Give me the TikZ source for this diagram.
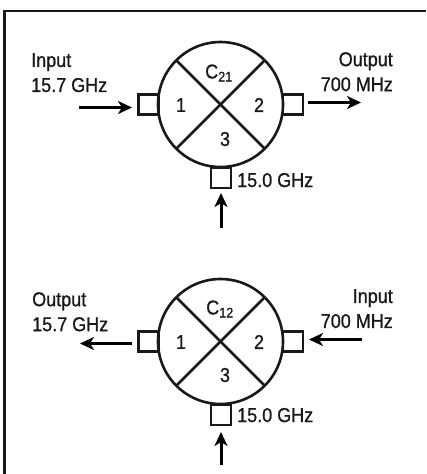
\documentclass[tikz,border=0pt]{standalone}
\usepackage{fontspec}
\setmainfont[FakeStretch=0.9,FakeBold=0.9]{Liberation Sans}
\usetikzlibrary{arrows.meta}
\tikzset{
  x=1pt,y=-1pt,
  lbl/.style={inner sep=0pt,font=\fontsize{20}{25}\selectfont,text=black!90,align=left},
  lblr/.style={lbl,align=right},
  num/.style={inner sep=0pt,font=\fontsize{20}{24}\selectfont,text=black!90},
  port/.style={draw=black!90,line width=2.6pt,fill=white,minimum size=20pt,inner sep=0pt,outer sep=0pt},
  ring/.style={draw=black!90,line width=2.6pt,circle,minimum size=125pt,inner sep=0pt,outer sep=0pt},
  wire/.style={draw=black!90,line width=2.6pt},
  sig/.style={draw=black,line width=3pt,-{Stealth[length=14pt,width=13pt,inset=4pt]}}
}
\begin{document}
\begin{tikzpicture}
\useasboundingbox (0,0) rectangle (426,474);
\fill[white] (0,0) rectangle (426,474);
\coordinate (fa) at (4.5,474);
\coordinate (fb) at (4.5,11);
\coordinate (fc) at (426,11);
\draw[line width=2.6pt,draw=black!90] (fa) -- (fb) -- (fc);
% top
\node[port] (l1) at (148.5,104.5) {};
\node[port] (r1) at (293,104.5) {};
\node[port] (b1) at (221,178) {};
\node[ring] (c1) at (220.5,104.5) {};
\draw[wire] (c1.135) -- (c1.-45);
\draw[wire] (c1.45) -- (c1.-135);
\node[num] (n11) at (181,105) {1};
\node[num] (n12) at (259,105) {2};
\node[num] (n13) at (225,139) {3};
\node[num] (nc1) at (219,73) {C\textsubscript{21}};
\node[lbl,anchor=north west] (t1) at (31,53) {Input\\15.7 GHz};
\node[lblr,anchor=north east] (t2) at (393,52) {Output\\700 MHz};
\node[lbl,anchor=base west] (t3) at (237,187) {15.0 GHz};
\coordinate (a1s) at (79,107.5);
\coordinate (a1e) at (132,107.5);
\coordinate (a2s) at (308,102.5);
\coordinate (a2e) at (361,102.5);
\coordinate (a3s) at (221,228);
\coordinate (a3e) at (221,193);
\draw[sig] (a1s) -- (a1e);
\draw[sig] (a2s) -- (a2e);
\draw[sig] (a3s) -- (a3e);
% bottom
\node[port] (l2) at (148.5,341.5) {};
\node[port] (r2) at (293,341.5) {};
\node[port] (b2) at (221,415) {};
\node[ring] (c2) at (220.5,341.5) {};
\draw[wire] (c2.135) -- (c2.-45);
\draw[wire] (c2.45) -- (c2.-135);
\node[num] (n21) at (181,342) {1};
\node[num] (n22) at (259,342) {2};
\node[num] (n23) at (225,375) {3};
\node[num] (nc2) at (220,309) {C\textsubscript{12}};
\node[lbl,anchor=north west] (t4) at (32,292) {Output\\15.7 GHz};
\node[lblr,anchor=north east] (t5) at (393,289) {Input\\700 MHz};
\node[lbl,anchor=base west] (t6) at (237,422) {15.0 GHz};
\coordinate (a4s) at (132,343.5);
\coordinate (a4e) at (80,343.5);
\coordinate (a5s) at (362,339.5);
\coordinate (a5e) at (309,339.5);
\coordinate (a6s) at (221,465);
\coordinate (a6e) at (221,432);
\draw[sig] (a4s) -- (a4e);
\draw[sig] (a5s) -- (a5e);
\draw[sig] (a6s) -- (a6e);
\end{tikzpicture}
\end{document}
